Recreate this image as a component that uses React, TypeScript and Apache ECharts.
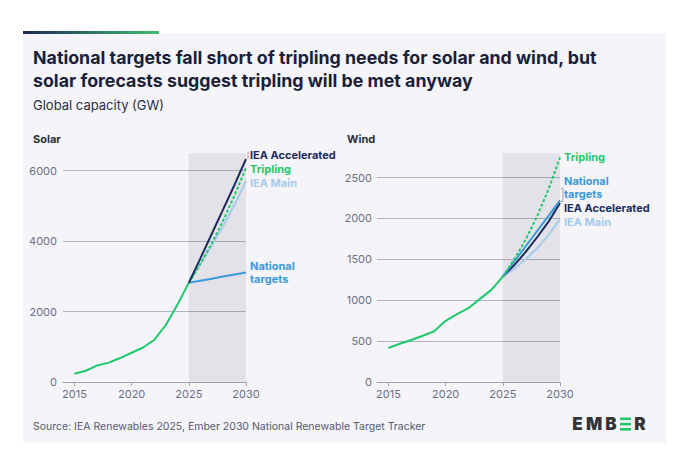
import React, { useEffect, useRef } from "react";
import * as echarts from "echarts";

const histYears = [2015, 2016, 2017, 2018, 2019, 2020, 2021, 2022, 2023, 2024, 2025];
const fcYears = [2025, 2026, 2027, 2028, 2029, 2030];
const xTicks = [2015, 2020, 2025, 2030];

const solarHistory = [235, 320, 470, 550, 680, 830, 980, 1200, 1625, 2190, 2815];
const solarAccelerated = [2815, 3500, 4200, 4900, 5600, 6330];
const solarTripling = [2815, 3350, 3930, 4580, 5300, 6080];
const solarMain = [2815, 3330, 3870, 4430, 5030, 5700];
const solarNational = [2815, 2874, 2933, 2992, 3051, 3110];
const solarYTicks = [0, 2000, 4000, 6000];

const windHistory = [415, 467, 514, 565, 620, 748, 829, 903, 1016, 1126, 1289];
const windTripling = [1289, 1499, 1743, 2027, 2357, 2745];
const windNational = [1289, 1475, 1660, 1846, 2032, 2220];
const windAccelerated = [1289, 1430, 1590, 1770, 1960, 2190];
const windMain = [1289, 1385, 1500, 1635, 1800, 1990];
const windYTicks = [0, 500, 1000, 1500, 2000, 2500];

const GREEN = "#1fc96b";
const NAVY = "#1c2b5a";
const LIGHT = "#a6cbea";
const BLUE = "#3b9ad9";
const FONT = "Inter, 'Noto Sans', sans-serif";

const pairs = (xs: number[], ys: number[]) => xs.map((x, i) => [x, ys[i]]);

function xAxis(gridIndex: number) {
  return {
    type: "value",
    gridIndex,
    min: 2014,
    max: 2030,
    axisLine: { show: true, lineStyle: { color: "#9ea3b3", width: 1 } },
    axisTick: { show: true, customValues: xTicks, length: 4, lineStyle: { color: "#9ea3b3" } },
    axisLabel: { customValues: xTicks, color: "#6b7085", fontSize: 11, fontFamily: FONT, margin: 6, formatter: (v: number) => String(v) },
    splitLine: { show: false },
  };
}

function yAxis(gridIndex: number, max: number, interval: number, ticks: number[], margin: number) {
  return {
    type: "value",
    gridIndex,
    min: 0,
    max,
    interval,
    axisLine: { show: false },
    axisTick: { show: false, customValues: ticks },
    axisLabel: { customValues: ticks, color: "#6b7085", fontSize: 11, fontFamily: FONT, margin, formatter: (v: number) => String(v) },
    splitLine: { show: true, lineStyle: { color: "#b0b4c1", width: 1 } },
  };
}

function fcSeries(name: string, idx: number, xs: number[], ys: number[], color: string, dashed: boolean, label: string, dy: number, lineH = 13) {
  return {
    type: "line",
    name,
    xAxisIndex: idx,
    yAxisIndex: idx,
    data: pairs(xs, ys),
    showSymbol: false,
    symbol: "none",
    smooth: false,
    lineStyle: { color, width: 2, type: dashed ? [3, 2] : "solid" },
    endLabel: {
      show: true,
      formatter: () => label,
      color,
      fontSize: 11,
      fontWeight: "bold",
      fontFamily: FONT,
      distance: 4,
      offset: [0, dy],
      lineHeight: lineH,
    },
    z: 3,
  };
}

function histSeries(idx: number, ys: number[]) {
  return {
    type: "line",
    xAxisIndex: idx,
    yAxisIndex: idx,
    data: pairs(histYears, ys),
    showSymbol: false,
    symbol: "none",
    lineStyle: { color: GREEN, width: 2 },
    markArea: {
      silent: true,
      itemStyle: { color: "rgba(40,40,70,0.09)" },
      data: [[{ xAxis: 2025 }, { xAxis: 2030 }]],
    },
    z: 2,
  };
}

const logoLetter = (ch: string, cx: number) => ({
  type: "text",
  x: cx,
  y: 424,
  style: { text: ch, fill: "#333438", fontSize: 17, fontWeight: 900, fontFamily: FONT, align: "center", verticalAlign: "middle" },
});

export default function App() {
  const ref = useRef<HTMLDivElement>(null);
  useEffect(() => {
    if (!ref.current) return;
    const chart = echarts.init(ref.current, undefined, { renderer: "svg" });
    const graphic: any[] = [
      { type: "rect", z: -10, silent: true, shape: { x: 23, y: 33, width: 643, height: 410 }, style: { fill: "#f4f4f9" } },
      {
        type: "rect", z: 10, silent: true, shape: { x: 23, y: 31, width: 136, height: 3 },
        style: { fill: new echarts.graphic.LinearGradient(0, 0, 1, 0, [{ offset: 0, color: "#1d2756" }, { offset: 1, color: "#3fbf72" }]) },
      },
      { type: "text", x: 33, y: 57, style: { text: "National targets fall short of tripling needs for solar and wind, but", fill: "#1b1f38", fontSize: 17.8, fontWeight: "bold", fontFamily: FONT, verticalAlign: "middle" } },
      { type: "text", x: 33, y: 80, style: { text: "solar forecasts suggest tripling will be met anyway", fill: "#1b1f38", fontSize: 17.8, fontWeight: "bold", fontFamily: FONT, verticalAlign: "middle" } },
      { type: "text", x: 33, y: 105, style: { text: "Global capacity (GW)", fill: "#2a2f45", fontSize: 13, fontFamily: FONT, verticalAlign: "middle" } },
      { type: "text", x: 33, y: 139, style: { text: "Solar", fill: "#2b2f3a", fontSize: 11, fontWeight: "bold", fontFamily: FONT, verticalAlign: "middle" } },
      { type: "text", x: 347, y: 139, style: { text: "Wind", fill: "#2b2f3a", fontSize: 11, fontWeight: "bold", fontFamily: FONT, verticalAlign: "middle" } },
      { type: "text", x: 33, y: 426, style: { text: "Source: IEA Renewables 2025, Ember 2030 National Renewable Target Tracker", fill: "#565b6e", fontSize: 10.5, fontFamily: FONT, verticalAlign: "middle" } },
      logoLetter("E", 577.5),
      logoLetter("M", 594),
      logoLetter("B", 611),
      { type: "rect", shape: { x: 620, y: 417.5, width: 11, height: 2.6 }, style: { fill: GREEN } },
      { type: "rect", shape: { x: 620, y: 422.8, width: 11, height: 2.6 }, style: { fill: GREEN } },
      { type: "rect", shape: { x: 620, y: 428, width: 11, height: 2.6 }, style: { fill: GREEN } },
      logoLetter("R", 640),
    ];
    const option: any = {
      animation: false,
      backgroundColor: "#ffffff",
      grid: [
        { left: 63, right: 454, top: 153, bottom: 88 },
        { left: 377, right: 140, top: 153, bottom: 88 },
      ],
      xAxis: [xAxis(0), xAxis(1)],
      yAxis: [yAxis(0, 6500, 2000, solarYTicks, 6), yAxis(1, 2800, 500, windYTicks, 5)],
      series: [
        histSeries(0, solarHistory),
        fcSeries("National targets", 0, fcYears, solarNational, BLUE, false, "National\ntargets", 0),
        fcSeries("IEA Main", 0, fcYears, solarMain, LIGHT, false, "IEA Main", 2),
        fcSeries("Tripling", 0, fcYears, solarTripling, GREEN, true, "Tripling", 1),
        fcSeries("IEA Accelerated", 0, fcYears, solarAccelerated, NAVY, false, "IEA Accelerated", -4),
        histSeries(1, windHistory),
        fcSeries("IEA Main", 1, fcYears, windMain, LIGHT, false, "IEA Main", 2.5),
        fcSeries("IEA Accelerated", 1, fcYears, windAccelerated, NAVY, false, "IEA Accelerated", 5),
        fcSeries("National targets", 1, fcYears, windNational, BLUE, false, "National\ntargets", -13),
        fcSeries("Tripling", 1, fcYears, windTripling, GREEN, true, "Tripling", 0),
      ],
      graphic,
    };
    chart.setOption(option);

    // small leader lines beside the end labels
    const sa = chart.convertToPixel({ gridIndex: 0 }, [2030, solarAccelerated[5]]) as number[];
    const wn = chart.convertToPixel({ gridIndex: 1 }, [2030, windNational[5]]) as number[];
    if (sa && wn) {
      chart.setOption({
        graphic: [
          ...graphic,
          { type: "line", silent: true, shape: { x1: sa[0] + 2, y1: sa[1] - 7, x2: sa[0] + 2, y2: sa[1] }, style: { stroke: "#a0a4b0", lineWidth: 1 } },
          { type: "polyline", silent: true, shape: { points: [[wn[0] + 1, wn[1] - 12], [wn[0] + 3, wn[1] - 12], [wn[0] + 3, wn[1] + 1], [wn[0] + 1, wn[1] + 1]] }, style: { stroke: "#a0a4b0", lineWidth: 1, fill: "none" } },
        ],
      });
    }
    return () => chart.dispose();
  }, []);
  return <div ref={ref} style={{ position: "absolute", left: 0, top: 0, width: 700, height: 470 }} />;
}
